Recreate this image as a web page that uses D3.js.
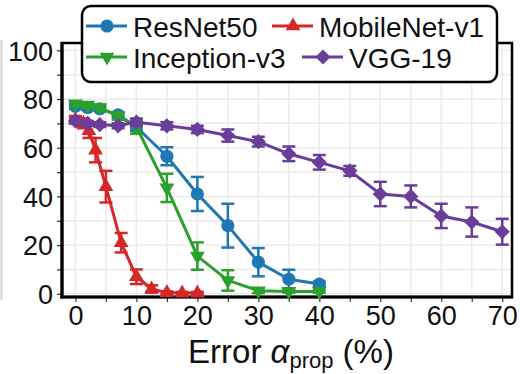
<!DOCTYPE html>
<html>
<head>
<meta charset="utf-8">
<script src="https://cdn.jsdelivr.net/npm/d3@7"></script>
<style>
  html, body { margin: 0; padding: 0; background: #fff; }
  svg { display: block; font-family: "Liberation Sans", Arial, sans-serif; }
</style>
</head>
<body>
<svg id="chart" width="520" height="374"></svg>
<script>
// Accuracy (%) versus proportional error for four networks
const resnetX = [0, 2, 4, 7, 10, 15, 20, 25, 30, 35, 40];
const resnetY = [77, 76.5, 76, 73.5, 68.5, 56.5, 41, 28, 13, 6, 4];
const resnetErr = [1, 1, 1, 1, 1.5, 3.7, 7, 9, 5.8, 3.9, 1];

const mobilenetX = [0, 1.3, 2.2, 3.3, 5, 7.5, 10, 12.5, 15, 17.5, 20];
const mobilenetY = [71.5, 70, 67, 59, 44, 21, 7, 2, 0.5, 0.3, 0.3];
const mobilenetErr = [1.5, 2, 3, 5, 6.5, 4, 3, 1.5, 0.5, 0.5, 0.5];

const inceptionX = [0, 2, 4, 7, 10, 15, 20, 25, 30, 35, 40];
const inceptionY = [78, 77.5, 76.5, 73, 68.5, 43.5, 15.5, 5.5, 1.3, 1, 1];
const inceptionErr = [1, 1, 1, 1.5, 2.7, 5.8, 5.6, 4.2, 1, 0.5, 0.5];

const vggX = [0, 2, 4, 7, 10, 15, 20, 25, 30, 35, 40, 45, 50, 55, 60, 65, 70];
const vggY = [71, 70, 69.5, 69, 70.5, 69, 67.5, 65, 62.5, 57.5, 54, 50.5, 41, 40, 32, 29.5, 25.5];
const vggErr = [1, 1, 1, 1, 1.5, 1.5, 1.5, 2.5, 2, 3, 3, 2, 5, 4.5, 5, 6, 5.3];

const xTickLabels = [0, 10, 20, 30, 40, 50, 60, 70];
const yTickLabels = [0, 20, 40, 60, 80, 100];
const xGridValues = d3.range(0, 71, 5);
const yGridValues = d3.range(0, 101, 10);

const series = [
  { name: "ResNet50", x: resnetX, y: resnetY, err: resnetErr, color: "#1f77b4", shape: "circle" },
  { name: "MobileNet-v1", x: mobilenetX, y: mobilenetY, err: mobilenetErr, color: "#d62728", shape: "triUp" },
  { name: "Inception-v3", x: inceptionX, y: inceptionY, err: inceptionErr, color: "#2ca02c", shape: "triDown" },
  { name: "VGG-19", x: vggX, y: vggY, err: vggErr, color: "#6a3d9a", shape: "diamond" }
];

const svg = d3.select("#chart");
const plotLeft = 62, plotRight = 512, plotTop = 43, plotBottom = 297;

const x = d3.scaleLinear().domain([-2.2, 71.6]).range([plotLeft, plotRight]);
const y = d3.scaleLinear().domain([-1.3, 103]).range([plotBottom, plotTop]);

// faint edge line at the far left
svg.append("line").attr("x1", 1.5).attr("x2", 1.5).attr("y1", 40).attr("y2", 300)
  .attr("stroke", "#d4d4d4").attr("stroke-width", 2);

// grid
const grid = svg.append("g");
grid.selectAll(".gx").data(xGridValues).join("line")
  .attr("x1", d => x(d)).attr("x2", d => x(d)).attr("y1", plotTop).attr("y2", plotBottom)
  .attr("stroke", "#ebebeb").attr("stroke-width", 1.5);
grid.selectAll(".gy").data(yGridValues).join("line")
  .attr("x1", plotLeft).attr("x2", plotRight).attr("y1", d => y(d)).attr("y2", d => y(d))
  .attr("stroke", "#ebebeb").attr("stroke-width", 1.5);

// axes
const xAxis = svg.append("g").attr("transform", `translate(0,${plotBottom})`)
  .call(d3.axisBottom(x).tickValues(xGridValues).tickSize(5).tickPadding(4)
    .tickFormat(d => xTickLabels.includes(d) ? d : ""));
const yAxis = svg.append("g").attr("transform", `translate(${plotLeft},0)`)
  .call(d3.axisLeft(y).tickValues(yGridValues).tickSize(5).tickPadding(4)
    .tickFormat(d => yTickLabels.includes(d) ? d : ""));
[xAxis, yAxis].forEach(a => {
  a.select(".domain").remove();
  a.selectAll(".tick line").attr("stroke", "#333").attr("stroke-width", 1.2);
  a.selectAll(".tick text").attr("fill", "#111").attr("font-size", 27)
    .attr("font-family", "Liberation Sans, Arial, sans-serif");
});
xAxis.selectAll(".tick text").attr("dy", "0.72em");
yAxis.selectAll(".tick text").attr("dy", "0.36em");

// plot frame
svg.append("rect").attr("x", plotLeft).attr("y", plotTop)
  .attr("width", plotRight - plotLeft).attr("height", plotBottom - plotTop)
  .attr("fill", "none").attr("stroke", "#000").attr("stroke-width", 2.5);
svg.append("line").attr("x1", plotLeft).attr("x2", plotLeft).attr("y1", plotTop - 1).attr("y2", plotBottom + 1.5)
  .attr("stroke", "#000").attr("stroke-width", 3.2);
svg.append("line").attr("x1", plotLeft - 1.5).attr("x2", plotRight + 1).attr("y1", plotBottom).attr("y2", plotBottom)
  .attr("stroke", "#000").attr("stroke-width", 3.2);

function markerPath(shape) {
  if (shape === "circle") return d3.symbol(d3.symbolCircle, 135)();
  if (shape === "triUp" || shape === "triDown") return d3.symbol(d3.symbolTriangle, 95)();
  return d3.symbol(d3.symbolSquare, 115)();
}
function markerRotate(shape) {
  if (shape === "triDown") return 180;
  if (shape === "diamond") return 45;
  return 0;
}

const line = d3.line().x(d => x(d.x)).y(d => y(d.y));
const plot = svg.append("g");

series.forEach(s => {
  const pts = s.x.map((v, i) => ({ x: v, y: s.y[i], e: s.err[i] }));
  const g = plot.append("g");
  g.append("path").datum(pts).attr("d", line)
    .attr("fill", "none").attr("stroke", s.color).attr("stroke-width", 3)
    .attr("stroke-linejoin", "round");
  const eb = g.selectAll(".eb").data(pts).join("g");
  eb.append("line").attr("x1", d => x(d.x)).attr("x2", d => x(d.x))
    .attr("y1", d => y(d.y - d.e)).attr("y2", d => y(d.y + d.e))
    .attr("stroke", s.color).attr("stroke-width", 2.5);
  [-1, 1].forEach(sign => {
    eb.append("line").attr("x1", d => x(d.x) - 6.5).attr("x2", d => x(d.x) + 6.5)
      .attr("y1", d => y(d.y + sign * d.e)).attr("y2", d => y(d.y + sign * d.e))
      .attr("stroke", s.color).attr("stroke-width", 2.5);
  });
  g.selectAll(".mk").data(pts).join("path")
    .attr("d", markerPath(s.shape))
    .attr("transform", d => `translate(${x(d.x)},${y(d.y)}) rotate(${markerRotate(s.shape)})`)
    .attr("fill", s.color);
});

// legend: two rows, entries flow left to right within each row
const legend = svg.append("g");
legend.append("rect").attr("x", 82).attr("y", 6).attr("width", 415).attr("height", 76)
  .attr("rx", 9).attr("fill", "#fff").attr("stroke", "#000").attr("stroke-width", 2.5);
const legendPos = [
  { lx: 86, ly: 26 }, { lx: 272, ly: 26 },
  { lx: 86, ly: 57 }, { lx: 302, ly: 57 }
];
series.forEach((s, i) => {
  const p = legendPos[i];
  const item = legend.append("g").attr("transform", `translate(${p.lx},${p.ly})`);
  item.append("line").attr("x1", 0).attr("x2", 41).attr("y1", 0).attr("y2", 0)
    .attr("stroke", s.color).attr("stroke-width", 3);
  item.append("path").attr("d", markerPath(s.shape))
    .attr("transform", `translate(21,0) rotate(${markerRotate(s.shape)})`)
    .attr("fill", s.color);
  item.append("text").attr("x", 47).attr("y", 10.5)
    .attr("font-size", 28).attr("fill", "#111").text(s.name);
});

// x axis title
const title = svg.append("text").attr("x", 291).attr("y", 363)
  .attr("text-anchor", "middle").attr("font-size", 33).attr("fill", "#111");
title.append("tspan").text("Error ");
title.append("tspan").attr("font-style", "italic").text("α");
title.append("tspan").attr("font-size", 22).attr("dy", 5).text("prop");
title.append("tspan").attr("dy", -5).text(" (%)");
</script>
</body>
</html>
